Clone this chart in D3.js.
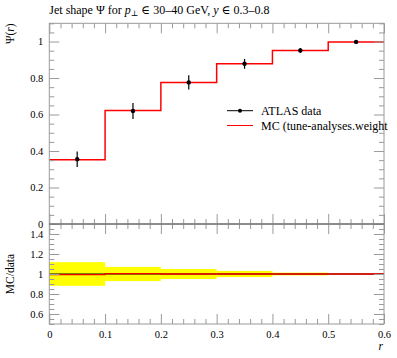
<!DOCTYPE html>
<html><head><meta charset="utf-8">
<script src="https://cdn.jsdelivr.net/npm/d3@7"></script>
<style>body{margin:0;background:#fff}svg{display:block}text{font-family:"Liberation Serif","DejaVu Serif",serif}</style>
</head><body><svg id="c" width="397" height="358"></svg>
<script>
const binEdges = [0, 0.1, 0.2, 0.3, 0.4, 0.5, 0.6];
const dataValues = [0.355, 0.619, 0.776, 0.878, 0.951, 0.998];
const dataErrors = [0.042, 0.044, 0.039, 0.027, 0.013, 0.003];
const mcValues = [0.352, 0.622, 0.776, 0.878, 0.951, 0.998];
const ratioValues = [0.993, 1.004, 1.0, 1.0, 1.0, 1.0];
const xTicks = [0, 0.1, 0.2, 0.3, 0.4, 0.5, 0.6];
const yTicks = [0, 0.2, 0.4, 0.6, 0.8, 1];
const rTicks = [0.6, 0.8, 1, 1.2, 1.4];

const svg = d3.select("#c");
const L = 49.3, R = 384, T = 23.3, M = 224, B = 324;
const x = d3.scaleLinear().domain([0, 0.6]).range([L, R]);
const y = d3.scaleLinear().domain([0, 1.1]).range([M, T]);
const yr = d3.scaleLinear().domain([0.5, 1.5]).range([B, M]);
const gray = "#9a9a9a";

const bins = dataValues.map((v, i) => ({lo: binEdges[i], hi: binEdges[i+1], mid: (binEdges[i]+binEdges[i+1])/2, v, e: dataErrors[i], mc: mcValues[i], r: ratioValues[i], re: dataErrors[i]/v}));

// ratio band
svg.append("g").selectAll("rect").data(bins).join("rect")
  .attr("x", d => x(d.lo)).attr("width", d => x(d.hi) - x(d.lo))
  .attr("y", d => yr(1 + d.re)).attr("height", d => yr(1 - d.re) - yr(1 + d.re))
  .attr("fill", "#ffff00");

const step = (acc, ys) => d3.line().x(p => x(p[0])).y(p => ys(p[1]))(bins.flatMap(d => [[d.lo, acc(d)], [d.hi, acc(d)]]));

svg.append("path").attr("d", step(d => 1, yr)).attr("fill", "none").attr("stroke", "#000").attr("stroke-width", 1);
svg.append("path").attr("d", step(d => d.r, yr)).attr("fill", "none").attr("stroke", "#ee0000").attr("stroke-width", 1.3);

// main MC
svg.append("path").attr("d", step(d => d.mc, y)).attr("fill", "none").attr("stroke", "#ff0000").attr("stroke-width", 1.5);

// data points
const dp = svg.append("g");
dp.selectAll("line").data(bins).join("line")
  .attr("x1", d => x(d.mid)).attr("x2", d => x(d.mid))
  .attr("y1", d => y(d.v - d.e)).attr("y2", d => y(d.v + d.e))
  .attr("stroke", "#000").attr("stroke-width", 1.2);
dp.selectAll("circle").data(bins).join("circle")
  .attr("cx", d => x(d.mid)).attr("cy", d => y(d.v)).attr("r", 2.2).attr("fill", "#000");

// axes helpers
function axes(g, ys, yt, yMinor, top, bottom, showX) {
  g.append("g").attr("transform", `translate(${L},0)`).call(d3.axisLeft(ys).tickValues(yt).tickSize(-10).tickPadding(6).tickFormat(d => d)).call(s => s.select(".domain").remove());
  g.append("g").attr("transform", `translate(${L},0)`).call(d3.axisLeft(ys).tickValues(yMinor).tickSize(-5).tickFormat("")).call(s => s.select(".domain").remove());
  g.append("g").attr("transform", `translate(${R},0)`).call(d3.axisRight(ys).tickValues(yt).tickSize(-10).tickFormat("")).call(s => s.select(".domain").remove());
  g.append("g").attr("transform", `translate(${R},0)`).call(d3.axisRight(ys).tickValues(yMinor).tickSize(-5).tickFormat("")).call(s => s.select(".domain").remove());
  const xMinor = d3.range(0, 0.6001, 0.02).filter(v => Math.abs(v*10 - Math.round(v*10)) > 1e-6);
  g.append("g").attr("transform", `translate(0,${top})`).call(d3.axisTop(x).tickValues(xTicks).tickSize(-10).tickFormat("")).call(s => s.select(".domain").remove());
  g.append("g").attr("transform", `translate(0,${top})`).call(d3.axisTop(x).tickValues(xMinor).tickSize(-5).tickFormat("")).call(s => s.select(".domain").remove());
  g.append("g").attr("transform", `translate(0,${bottom})`).call(d3.axisBottom(x).tickValues(xTicks).tickSize(-10).tickPadding(7).tickFormat(showX ? (d => d) : "")).call(s => s.select(".domain").remove());
  g.append("g").attr("transform", `translate(0,${bottom})`).call(d3.axisBottom(x).tickValues(xMinor).tickSize(-5).tickFormat("")).call(s => s.select(".domain").remove());
  g.append("rect").attr("x", L).attr("y", top).attr("width", R - L).attr("height", bottom - top).attr("fill", "none").attr("stroke", gray);
}
const yMinorMain = d3.range(0, 1.1001, 0.05).filter(v => Math.abs(v*5 - Math.round(v*5)) > 1e-6);
const yMinorR = d3.range(0.5, 1.5001, 0.05).filter(v => Math.abs(v*5 - Math.round(v*5)) > 1e-6);
const gMain = svg.append("g");
axes(gMain, y, yTicks, yMinorMain, T, M, false);
const gR = svg.append("g");
axes(gR, yr, rTicks, yMinorR, M, B, true);
svg.selectAll(".tick line").attr("stroke", gray);
svg.selectAll(".tick text").attr("font-size", 10.5).attr("fill", "#000");
svg.append("line").attr("x1", L).attr("x2", R).attr("y1", M).attr("y2", M).attr("stroke", "#666");

// titles
svg.append("text").attr("x", L).attr("y", 14).attr("font-size", 12)
  .html('Jet shape Ψ for <tspan font-style="italic">p</tspan><tspan font-size="8" dy="2">⊥</tspan><tspan dy="-2"> ∈ 30–40 GeV, </tspan><tspan font-style="italic">y</tspan> ∈ 0.3–0.8');
svg.append("text").attr("transform", `translate(14,${T}) rotate(-90)`).attr("text-anchor", "end").attr("font-size", 11.5)
  .html('Ψ(<tspan font-style="italic">r</tspan>)');
svg.append("text").attr("transform", `translate(14,${(M+B)/2}) rotate(-90)`).attr("text-anchor", "middle").attr("font-size", 11.5).text("MC/data");
svg.append("text").attr("x", R - 1).attr("y", 350).attr("text-anchor", "end").attr("font-size", 11.5).attr("font-style", "italic").text("r");

// legend
const lg = svg.append("g");
lg.append("line").attr("x1", 227).attr("x2", 253).attr("y1", 110.7).attr("y2", 110.7).attr("stroke", "#000").attr("stroke-width", 1);
lg.append("circle").attr("cx", 240).attr("cy", 110.7).attr("r", 2).attr("fill", "#000");
lg.append("text").attr("x", 261).attr("y", 114.5).attr("font-size", 12).text("ATLAS data");
lg.append("line").attr("x1", 227).attr("x2", 253).attr("y1", 125.5).attr("y2", 125.5).attr("stroke", "#ff0000").attr("stroke-width", 1);
lg.append("text").attr("x", 261).attr("y", 129.5).attr("font-size", 12).text("MC (tune-analyses.weight");
</script></body></html>
